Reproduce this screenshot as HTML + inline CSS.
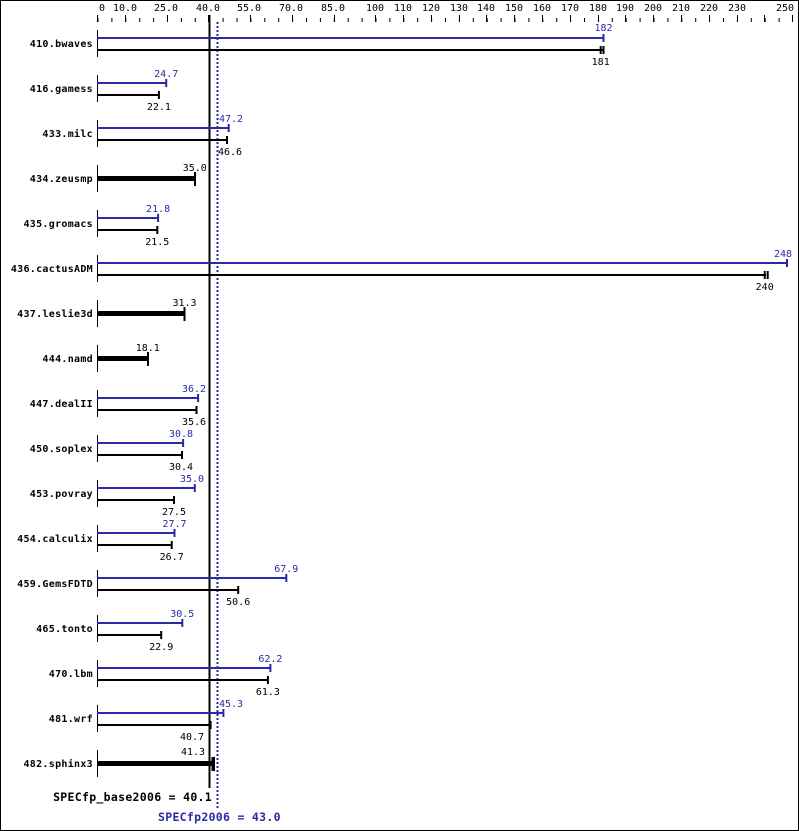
<!DOCTYPE html>
<html><head><meta charset="utf-8"><style>
html,body{margin:0;padding:0;background:#fff}
svg{display:block}
text{font-family:"DejaVu Sans Mono","Liberation Mono",monospace;font-size:10px}
.n{font-family:"DejaVu Sans Mono","Liberation Mono",monospace;font-weight:bold;font-size:11.5px;letter-spacing:0.3px}
.b{fill:#2a2aa8}
</style></head><body>
<svg width="799" height="831" viewBox="0 0 799 831" xmlns="http://www.w3.org/2000/svg">
<defs>
<pattern id="tk" x="97.5" y="0" width="13.9" height="831" patternUnits="userSpaceOnUse">
<rect x="0" y="18" width="1" height="4" fill="#000"/>
</pattern>
</defs>
<rect x="0.5" y="0.5" width="798" height="830" fill="#fff" stroke="#000"/>
<rect x="97" y="0" width="696" height="23" fill="url(#tk)"/>
<g fill="#000">
<rect x="97" y="15" width="1" height="7"/><rect x="125" y="15" width="1" height="7"/><rect x="167" y="15" width="1" height="7"/>
<rect x="208" y="15" width="1" height="7"/><rect x="250" y="15" width="1" height="7"/><rect x="292" y="15" width="1" height="7"/>
<rect x="334" y="15" width="1" height="7"/><rect x="375" y="15" width="1" height="7"/><rect x="403" y="15" width="1" height="7"/>
<rect x="431" y="15" width="1" height="7"/><rect x="459" y="15" width="1" height="7"/><rect x="486" y="15" width="1" height="7"/>
<rect x="514" y="15" width="1" height="7"/><rect x="542" y="15" width="1" height="7"/><rect x="570" y="15" width="1" height="7"/>
<rect x="598" y="15" width="1" height="7"/><rect x="625" y="15" width="1" height="7"/><rect x="653" y="15" width="1" height="7"/>
<rect x="681" y="15" width="1" height="7"/><rect x="709" y="15" width="1" height="7"/><rect x="737" y="15" width="1" height="7"/>
<rect x="764" y="15" width="1" height="7"/><rect x="792" y="15" width="1" height="7"/>
</g>
<g text-anchor="middle">
<text x="102" y="11">0</text><text x="125" y="11">10.0</text><text x="166" y="11">25.0</text><text x="208" y="11">40.0</text>
<text x="249" y="11">55.0</text><text x="291" y="11">70.0</text><text x="333" y="11">85.0</text><text x="375" y="11">100</text>
<text x="403" y="11">110</text><text x="431" y="11">120</text><text x="459" y="11">130</text><text x="486" y="11">140</text>
<text x="514" y="11">150</text><text x="542" y="11">160</text><text x="570" y="11">170</text><text x="598" y="11">180</text>
<text x="625" y="11">190</text><text x="653" y="11">200</text><text x="681" y="11">210</text><text x="709" y="11">220</text>
<text x="737" y="11">230</text><text x="785" y="11">250</text>
</g>
<rect x="208.5" y="15" width="2" height="773" fill="#000"/>
<line x1="217.5" y1="22" x2="217.5" y2="810" stroke="#2a2aa8" stroke-width="2" stroke-dasharray="2,2"/>
<text class="n" x="212" y="801" text-anchor="end">SPECfp_base2006 = 40.1</text>
<text class="n b" x="158" y="821">SPECfp2006 = 43.0</text>

<g class="n" text-anchor="end">
<text x="93" y="47">410.bwaves</text><text x="93" y="92">416.gamess</text><text x="93" y="137">433.milc</text>
<text x="93" y="182">434.zeusmp</text><text x="93" y="227">435.gromacs</text><text x="93" y="272">436.cactusADM</text>
<text x="93" y="317">437.leslie3d</text><text x="93" y="362">444.namd</text><text x="93" y="407">447.dealII</text>
<text x="93" y="452">450.soplex</text><text x="93" y="497">453.povray</text><text x="93" y="542">454.calculix</text>
<text x="93" y="587">459.GemsFDTD</text><text x="93" y="632">465.tonto</text><text x="93" y="677">470.lbm</text>
<text x="93" y="722">481.wrf</text><text x="93" y="767">482.sphinx3</text>
</g>

<g fill="#000">
<rect x="97" y="30" width="1" height="27"/><rect x="97" y="75" width="1" height="27"/><rect x="97" y="120" width="1" height="27"/>
<rect x="97" y="165" width="1" height="27"/><rect x="97" y="210" width="1" height="27"/><rect x="97" y="255" width="1" height="27"/>
<rect x="97" y="300" width="1" height="27"/><rect x="97" y="345" width="1" height="27"/><rect x="97" y="390" width="1" height="27"/>
<rect x="97" y="435" width="1" height="27"/><rect x="97" y="480" width="1" height="27"/><rect x="97" y="525" width="1" height="27"/>
<rect x="97" y="570" width="1" height="27"/><rect x="97" y="615" width="1" height="27"/><rect x="97" y="660" width="1" height="27"/>
<rect x="97" y="705" width="1" height="27"/><rect x="97" y="750" width="1" height="27"/>
</g>
<g stroke-width="2" fill="none">
<path d="M97 38H603.5M603.5 34V42" stroke="#2a2aa8"/><path d="M97 50H603.5M600.7 46V54M603.5 46V54" stroke="#000"/>
<path d="M97 83H166.2M166.2 79V87" stroke="#2a2aa8"/><path d="M97 95H158.9M158.9 91V99" stroke="#000"/>
<path d="M97 128H228.7M228.7 124V132" stroke="#2a2aa8"/><path d="M97 140H227M227 136V144" stroke="#000"/>
<path d="M97 218H158.1M158.1 214V222" stroke="#2a2aa8"/><path d="M97 230H157.3M157.3 226V234" stroke="#000"/>
<path d="M97 263H787M787 259V267" stroke="#2a2aa8"/><path d="M97 275H766M764.7 271V279M767.7 271V279" stroke="#000"/>
<path d="M97 398H198.1M198.1 394V402" stroke="#2a2aa8"/><path d="M97 410H196.5M196.5 406V414" stroke="#000"/>
<path d="M97 443H183.1M183.1 439V447" stroke="#2a2aa8"/><path d="M97 455H182M182 451V459" stroke="#000"/>
<path d="M97 488H194.8M194.8 484V492" stroke="#2a2aa8"/><path d="M97 500H174M174 496V504" stroke="#000"/>
<path d="M97 533H174.5M174.5 529V537" stroke="#2a2aa8"/><path d="M97 545H171.7M171.7 541V549" stroke="#000"/>
<path d="M97 578H286.3M286.3 574V582" stroke="#2a2aa8"/><path d="M97 590H238.2M238.2 586V594" stroke="#000"/>
<path d="M97 623H182.3M182.3 619V627" stroke="#2a2aa8"/><path d="M97 635H161.2M161.2 631V639" stroke="#000"/>
<path d="M97 668H270.4M270.4 664V672" stroke="#2a2aa8"/><path d="M97 680H267.9M267.9 676V684" stroke="#000"/>
<path d="M97 713H223.4M223.4 709V717" stroke="#2a2aa8"/><path d="M97 725H210.6M210.6 721V729" stroke="#000"/>
</g>
<g fill="#000">
<rect x="97" y="176" width="98" height="5"/><rect x="194" y="172" width="2" height="14"/>
<rect x="97" y="311" width="88" height="5"/><rect x="183.5" y="307" width="2" height="14"/>
<rect x="97" y="356" width="51" height="5"/><rect x="147" y="352" width="2" height="14"/>
<rect x="97" y="761" width="115" height="5"/><rect x="211.5" y="757" width="2" height="14"/><rect x="213.5" y="757" width="1.5" height="14"/>
</g>
<g text-anchor="middle">
<text class="b" x="603.5" y="31">182</text><text x="600.7" y="65">181</text>
<text class="b" x="166.2" y="77">24.7</text><text x="158.9" y="110">22.1</text>
<text class="b" x="231" y="122">47.2</text><text x="230" y="155">46.6</text>
<text x="194.8" y="171">35.0</text>
<text class="b" x="158.1" y="212">21.8</text><text x="157.3" y="245">21.5</text>
<text class="b" x="783" y="257">248</text><text x="764.7" y="290">240</text>
<text x="184.5" y="306">31.3</text>
<text x="147.8" y="351">18.1</text>
<text class="b" x="194" y="392">36.2</text><text x="194" y="425">35.6</text>
<text class="b" x="181" y="437">30.8</text><text x="181" y="470">30.4</text>
<text class="b" x="192" y="482">35.0</text><text x="174" y="515">27.5</text>
<text class="b" x="174.5" y="527">27.7</text><text x="171.7" y="560">26.7</text>
<text class="b" x="286.3" y="572">67.9</text><text x="238.2" y="605">50.6</text>
<text class="b" x="182.3" y="617">30.5</text><text x="161.2" y="650">22.9</text>
<text class="b" x="270.4" y="662">62.2</text><text x="267.9" y="695">61.3</text>
<text class="b" x="231" y="707">45.3</text><text x="192" y="740">40.7</text>
<text x="193" y="755">41.3</text>
</g>
</svg>
</body></html>
